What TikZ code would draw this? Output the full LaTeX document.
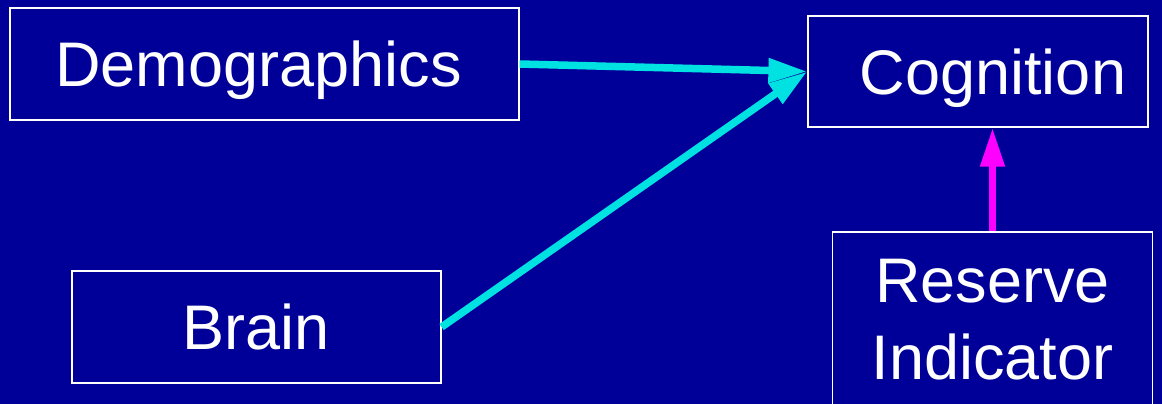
\documentclass[tikz,border=0pt]{standalone}
\usepackage{fontspec}
\setmainfont{Liberation Sans}
\usetikzlibrary{arrows.meta}
\definecolor{slidebg}{RGB}{0,0,153}
\definecolor{linkcyan}{RGB}{0,226,226}
\definecolor{linkpink}{RGB}{255,0,255}
\begin{document}
\begin{tikzpicture}[x=1pt,y=-1pt,
  every node/.style={font=\fontsize{63}{77}\selectfont, text=white},
  factor/.style={draw=white, line width=1.2pt, inner sep=0pt, text depth=0pt},
  link/.style={line width=7.5pt, -{Triangle[length=39pt,width=23pt]}}]
  \fill[slidebg] (0,0) rectangle (1162,404);
  \useasboundingbox (0,0) rectangle (1162,404);
  % boxes
  \node[factor, minimum width=509pt, minimum height=112pt] (demo) at (264.5,64) {Demographics\hspace*{12pt}};
  \node[factor, minimum width=340pt, minimum height=111pt] (cog) at (978,71.5) {\hspace*{30pt}Cognition};
  \node[factor, minimum width=369pt, minimum height=112pt] (brain) at (256.5,327) {Brain};
  \node[factor, align=center, minimum width=320pt, minimum height=175pt] (res) at (992.5,319.5) {Reserve\\Indicator};
  % arrows
  \draw[link, linkcyan] (demo.east) -- (cog.west);
  \draw[link, linkcyan] (brain.east) -- (cog.west);
  \draw[link, linkpink] (res.north) -- (res.north |- cog.south);
\end{tikzpicture}
\end{document}
